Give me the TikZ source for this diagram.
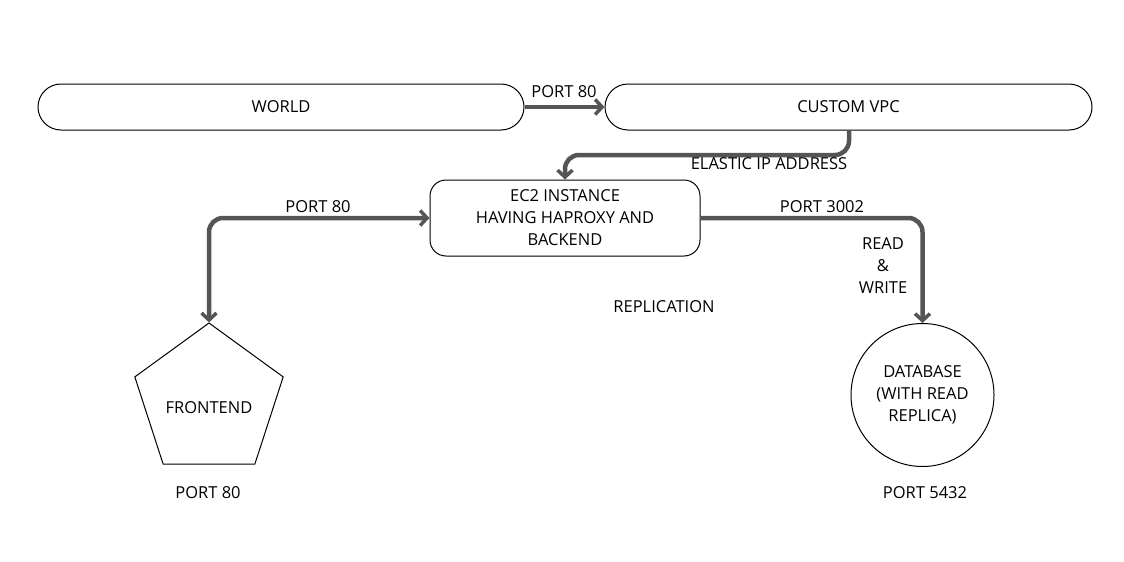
\documentclass[tikz,border=0pt]{standalone}
\usepackage{fontspec}
\setmainfont{Open Sans}
\usetikzlibrary{arrows.meta,shapes.geometric}
\definecolor{conncol}{HTML}{555555}
\tikzset{
  txt/.style={font=\fontsize{16.5}{22}\selectfont, text=black, align=center, inner sep=0pt},
  pill/.style={draw=black, line width=1pt, rounded corners=23pt, minimum height=46pt, txt},
  box/.style={draw=black, line width=1pt, rounded corners=16pt, minimum width=270pt, minimum height=76pt, txt},
  conn/.style={draw=conncol, line width=4.5pt, rounded corners=14pt, -{Straight Barb[length=7pt,width=15pt,line width=3.5pt]}},
  conn2/.style={draw=conncol, line width=4.5pt, rounded corners=14pt, {Straight Barb[length=7pt,width=15pt,line width=3.5pt]}-{Straight Barb[length=7pt,width=15pt,line width=3.5pt]}},
}
\begin{document}
\begin{tikzpicture}[x=1pt,y=-1pt]
\useasboundingbox (0,0) rectangle (1124,562);
\node[pill, minimum width=486pt] (world) at (281,107) {WORLD};
\node[pill, minimum width=487pt] (vpc) at (848.5,107) {CUSTOM VPC};
\node[box] (ec2) at (565,218) {EC2 INSTANCE\\HAVING HAPROXY AND\\BACKEND};
\node[draw=black, line width=1pt, regular polygon, regular polygon sides=5, minimum size=156pt, inner sep=0pt] (fe) at (209,401) {};
\node[txt] (fetxt) at (209,408) {FRONTEND};
\node[draw=black, line width=1pt, circle, minimum size=143pt, inner sep=0pt, txt] (db) at (922.5,395) {DATABASE\\(WITH READ\\REPLICA)};

\coordinate (e1) at (849,155);
\coordinate (l1) at (209,218);
\coordinate (r1) at (922.5,218);

\draw[conn] (world.east) -- (vpc.west);
\draw[conn] (e1 |- vpc.south) -- (e1) -- (e1 -| ec2.north) -- (ec2.north);
\draw[conn2] (fe.corner 1) -- (l1) -- (ec2.west);
\draw[conn] (ec2.east) -- (r1) -- (db.north);

\node[txt] (lp80) at (564,92) {PORT 80};
\node[txt] (leip) at (769,164) {ELASTIC IP ADDRESS};
\node[txt] (lp80b) at (318,207) {PORT 80};
\node[txt] (lp3002) at (822,207) {PORT 3002};
\node[txt] (lrw) at (883,266) {READ\\\&\\WRITE};
\node[txt] (lrep) at (664,307) {REPLICATION};
\node[txt] (lfe80) at (208,493) {PORT 80};
\node[txt] (ldb) at (925,493) {PORT 5432};
\end{tikzpicture}
\end{document}
